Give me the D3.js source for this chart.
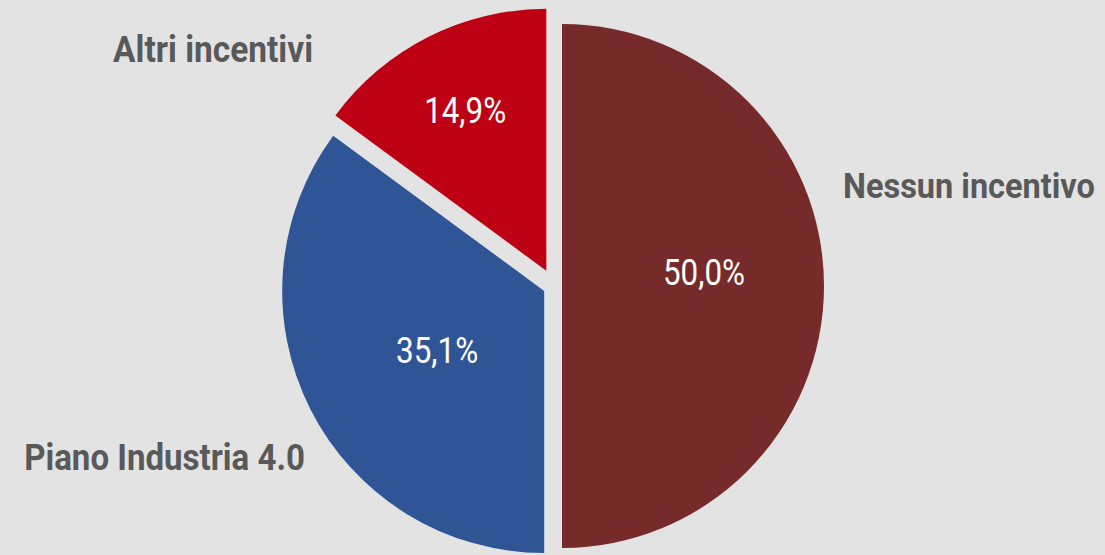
<!DOCTYPE html>
<html>
<head>
<meta charset="utf-8">
<script src="https://cdn.jsdelivr.net/npm/d3@7"></script>
<style>
  html, body { margin: 0; padding: 0; background: #e3e3e3; }
  svg { display: block; }
</style>
</head>
<body>
<svg id="chart" width="1105" height="555"></svg>
<script>
// ---- data ----
const categories = ["Nessun incentivo", "Piano Industria 4.0", "Altri incentivi"];
const values = [50.0, 35.1, 14.9];
const colors = ["#772a2a", "#2f5597", "#be0014"];

// ---- layout ----
const W = 1105, H = 555;
const cx = 554, cy = 286, R = 262;
const explode = [8, 11, 17];          // per-slice offset along its mid angle
const valueLabelR = [142, 120, 180];  // distance of the % label from the slice tip
const valueLabelShiftY = [-14, 5, 0];
// name label: anchor, offset from pie centre, target width
const nameLayout = [
  { anchor: "start", dx: 289, dy: -88, w: 252 },
  { anchor: "end",   dx: -249, dy: 184, w: 281 },
  { anchor: "end",   dx: -241, dy: -224, w: 200 }
];

const locale = d3.formatLocale({ decimal: ",", thousands: ".", grouping: [3], currency: ["€", ""] });
const fmt = locale.format(".1f");

const svg = d3.select("#chart");
svg.append("rect").attr("width", W).attr("height", H).attr("fill", "#e3e3e3");

const pie = d3.pie().sort(null).value(d => d.v);
const data = categories.map((c, i) => ({ c, v: values[i], i }));
const arcs = pie(data);
const arc = d3.arc().innerRadius(0).outerRadius(R);

const g = svg.append("g").attr("transform", `translate(${cx},${cy})`);

function dir(a) { return [Math.sin(a), -Math.cos(a)]; }

const slices = g.selectAll("g.slice").data(arcs).enter().append("g")
  .attr("class", "slice")
  .attr("transform", d => {
    const m = (d.startAngle + d.endAngle) / 2;
    const [ux, uy] = dir(m);
    return `translate(${ux * explode[d.index]},${uy * explode[d.index]})`;
  });

slices.append("path")
  .attr("d", arc)
  .attr("fill", d => colors[d.index]);

slices.append("text")
  .attr("x", d => dir((d.startAngle + d.endAngle) / 2)[0] * valueLabelR[d.index])
  .attr("y", d => dir((d.startAngle + d.endAngle) / 2)[1] * valueLabelR[d.index] + valueLabelShiftY[d.index])
  .attr("dy", "0.35em")
  .attr("text-anchor", "middle")
  .attr("font-family", "Roboto, 'Noto Sans', sans-serif")
  .attr("font-size", 37)
  .attr("fill", "#ffffff")
  .attr("textLength", 82)
  .attr("lengthAdjust", "spacingAndGlyphs")
  .text(d => fmt(d.data.v) + "%");

// category names, horizontally condensed to the reference widths
g.selectAll("text.name").data(arcs).enter().append("text")
  .attr("class", "name")
  .attr("text-anchor", d => nameLayout[d.index].anchor)
  .attr("font-family", "Roboto, 'Noto Sans', sans-serif")
  .attr("font-weight", "bold")
  .attr("font-size", 36)
  .attr("fill", "#595959")
  .text(d => d.data.c)
  .attr("transform", function(d) {
    const L = nameLayout[d.index];
    const natural = this.getComputedTextLength() || L.w;
    const sx = L.w / natural;
    return `translate(${L.dx},${L.dy}) scale(${sx},1)`;
  });
</script>
</body>
</html>
